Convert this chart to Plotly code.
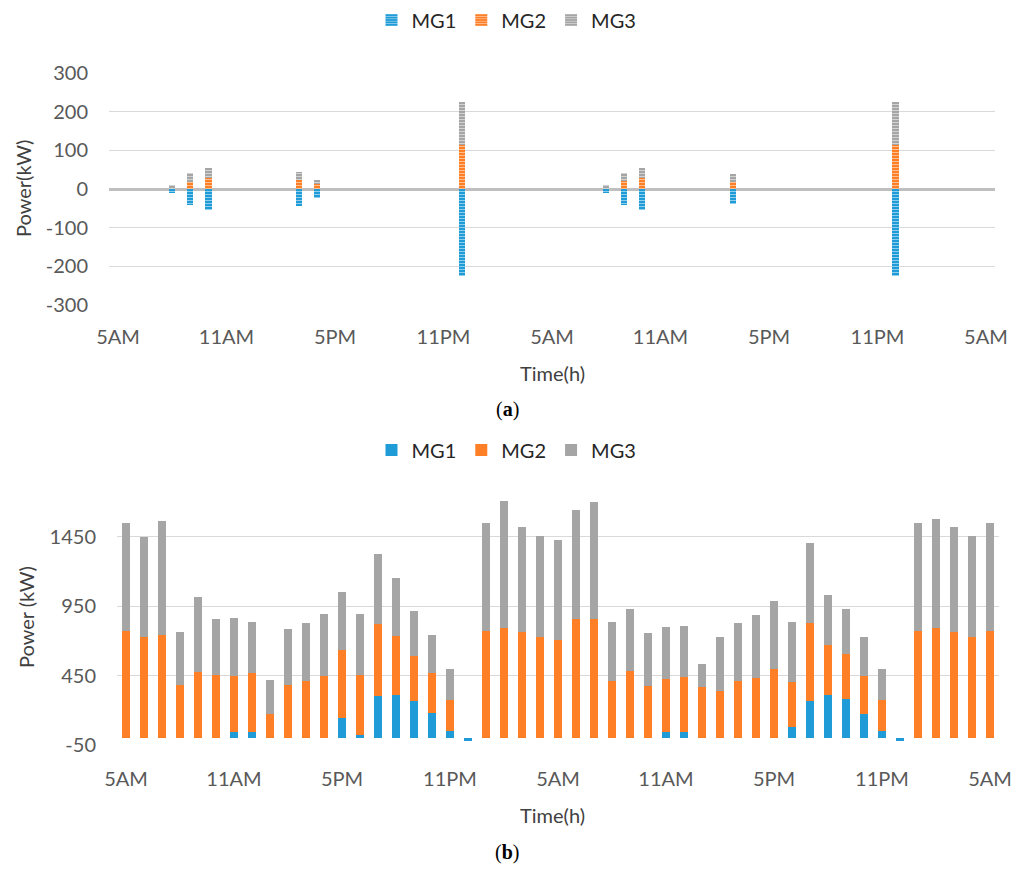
import plotly.graph_objects as go

# ---------------- data ----------------
tick_labels = ["5AM", "11AM", "5PM", "11PM", "5AM", "11AM", "5PM", "11PM", "5AM"]
n_hours = 49
hours = list(range(n_hours))
tick_positions = list(range(0, n_hours, 6))

top_yticks = [-300, -200, -100, 0, 100, 200, 300]
bot_yticks = [-50, 450, 950, 1450]

# (a) exchanged power, only hours with non-zero exchange
top_hours = [3, 4, 5, 10, 11, 19, 27, 28, 29, 34, 43]
top_mg1 = [-10, -41, -55, -45, -24, -224, -10, -41, -55, -38, -224]
top_mg2 = [0, 18, 28, 22, 13, 114, 0, 21, 28, 19, 114]
top_mg3 = [10, 23, 27, 23, 11, 110, 10, 20, 27, 19, 110]

# (b) power of each microgrid, hourly
bot_mg1 = [0, 0, 0, 0, 0, 0, 41, 41, 0, 0, 0, 0, 142, 22, 300, 310, 264, 180, 50, -24,
           0, 0, 0, 0, 0, 0, 0, 0, 0, 0, 41, 41, 0, 0, 0, 0, 0, 79, 264, 310, 283, 170, 50, -24,
           0, 0, 0, 0, 0]
bot_mg2 = [773, 727, 744, 384, 478, 456, 408, 427, 170, 384, 413, 449, 492, 434, 518, 427, 324, 288, 224, 0,
           773, 792, 763, 727, 708, 857, 857, 413, 485, 374, 381, 401, 367, 338, 413, 430, 497, 322, 564, 362,
           324, 279, 224, 0, 773, 792, 763, 727, 773]
bot_mg3 = [777, 723, 816, 379, 537, 401, 417, 370, 250, 398, 415, 444, 415, 437, 509, 415, 324, 276, 220, 0,
           777, 917, 759, 730, 720, 787, 842, 425, 446, 380, 380, 367, 166, 389, 415, 453, 489, 437, 576, 360,
           324, 278, 220, 0, 777, 787, 759, 730, 777]

names = ["MG1", "MG2", "MG3"]
colors = ["#1F9BD8", "#FF7F27", "#A5A5A5"]
stripe = ["#8FCDEB", "#FFBF93", "#D2D2D2"]

# ---------------- figure ----------------
W, H = 1013, 884
FONT = "Lato"
fig = go.Figure()

for name, vals, c, s in zip(names, [top_mg1, top_mg2, top_mg3], colors, stripe):
    fig.add_trace(go.Bar(
        x=top_hours, y=vals, name=name, xaxis="x", yaxis="y", width=0.34,
        marker=dict(color=c, line=dict(width=0),
                    pattern=dict(shape="-", fgcolor=s, bgcolor=c, size=3, solidity=0.35)),
        legend="legend", showlegend=True,
    ))

for name, vals, c in zip(names, [bot_mg1, bot_mg2, bot_mg3], colors):
    fig.add_trace(go.Bar(
        x=hours, y=vals, name=name, xaxis="x2", yaxis="y2", width=0.45,
        marker=dict(color=c, line=dict(width=0)),
        legend="legend2", showlegend=True,
    ))

def px_x(p):
    return p / W

def px_y(p):
    return 1 - p / H

tickfont = dict(family=FONT, size=20, color="#595959")
hy = lambda v: str(v).replace("\u2212", "-")

fig.update_layout(
    template="none",
    width=W, height=H,
    margin=dict(l=0, r=0, t=0, b=0, autoexpand=False),
    paper_bgcolor="white", plot_bgcolor="white",
    barmode="relative", bargap=0,
    font=dict(family=FONT, size=20, color="#595959"),
    xaxis=dict(domain=[px_x(109), px_x(995)], range=[-0.5, n_hours - 0.5],
               tickvals=tick_positions, ticktext=tick_labels, tickfont=tickfont,
               showgrid=False, zeroline=False, showline=False, ticks="",
               ticklabelstandoff=18, anchor="y", automargin=False),
    yaxis=dict(domain=[px_y(305), px_y(73)], range=[-300, 300],
               tickvals=top_yticks, ticktext=[hy(v) for v in top_yticks], tickfont=tickfont,
               showgrid=True, gridcolor="#D9D9D9", gridwidth=1.3,
               zeroline=True, zerolinecolor="#BFBFBF", zerolinewidth=3,
               showline=False, ticks="", ticklabelstandoff=20, anchor="x", automargin=False),
    xaxis2=dict(domain=[px_x(117), px_x(999)], range=[-0.5, n_hours - 0.5],
                tickvals=tick_positions, ticktext=tick_labels, tickfont=tickfont,
                showgrid=False, zeroline=False, showline=False, ticks="",
                ticklabelstandoff=20, anchor="y2", automargin=False),
    yaxis2=dict(domain=[px_y(745), px_y(488)], range=[-50, 1800],
                tickvals=bot_yticks, ticktext=[hy(v) for v in bot_yticks], tickfont=tickfont,
                showgrid=True, gridcolor="#D9D9D9", gridwidth=1.3,
                zeroline=False, showline=False, ticks="", ticklabelstandoff=20, anchor="x2",
                automargin=False),
    legend=dict(orientation="h", x=0.5, xanchor="center", y=px_y(20), yanchor="middle",
                font=dict(family=FONT, size=20, color="#262626"), bgcolor="rgba(0,0,0,0)",
                itemsizing="constant", traceorder="normal"),
    legend2=dict(orientation="h", x=0.5, xanchor="center", y=px_y(450), yanchor="middle",
                 font=dict(family=FONT, size=20, color="#262626"), bgcolor="rgba(0,0,0,0)",
                 itemsizing="constant", traceorder="normal"),
    showlegend=True,
)

annots = [
    dict(text="Power(kW)", x=px_x(23), y=px_y(189), textangle=-90,
         font=dict(family=FONT, size=20, color="#404040")),
    dict(text="Time(h)", x=px_x(552), y=px_y(373),
         font=dict(family=FONT, size=20, color="#404040")),
    dict(text="(<b>a</b>)", x=px_x(507), y=px_y(409),
         font=dict(family="Liberation Serif", size=20, color="#000000")),
    dict(text="Power (kW)", x=px_x(26), y=px_y(617), textangle=-90,
         font=dict(family=FONT, size=20, color="#404040")),
    dict(text="Time(h)", x=px_x(552), y=px_y(815),
         font=dict(family=FONT, size=20, color="#404040")),
    dict(text="(<b>b</b>)", x=px_x(507), y=px_y(852),
         font=dict(family="Liberation Serif", size=20, color="#000000")),
]
for a in annots:
    fig.add_annotation(xref="paper", yref="paper", showarrow=False,
                       xanchor="center", yanchor="middle", **a)

fig.write_html("out.html")
